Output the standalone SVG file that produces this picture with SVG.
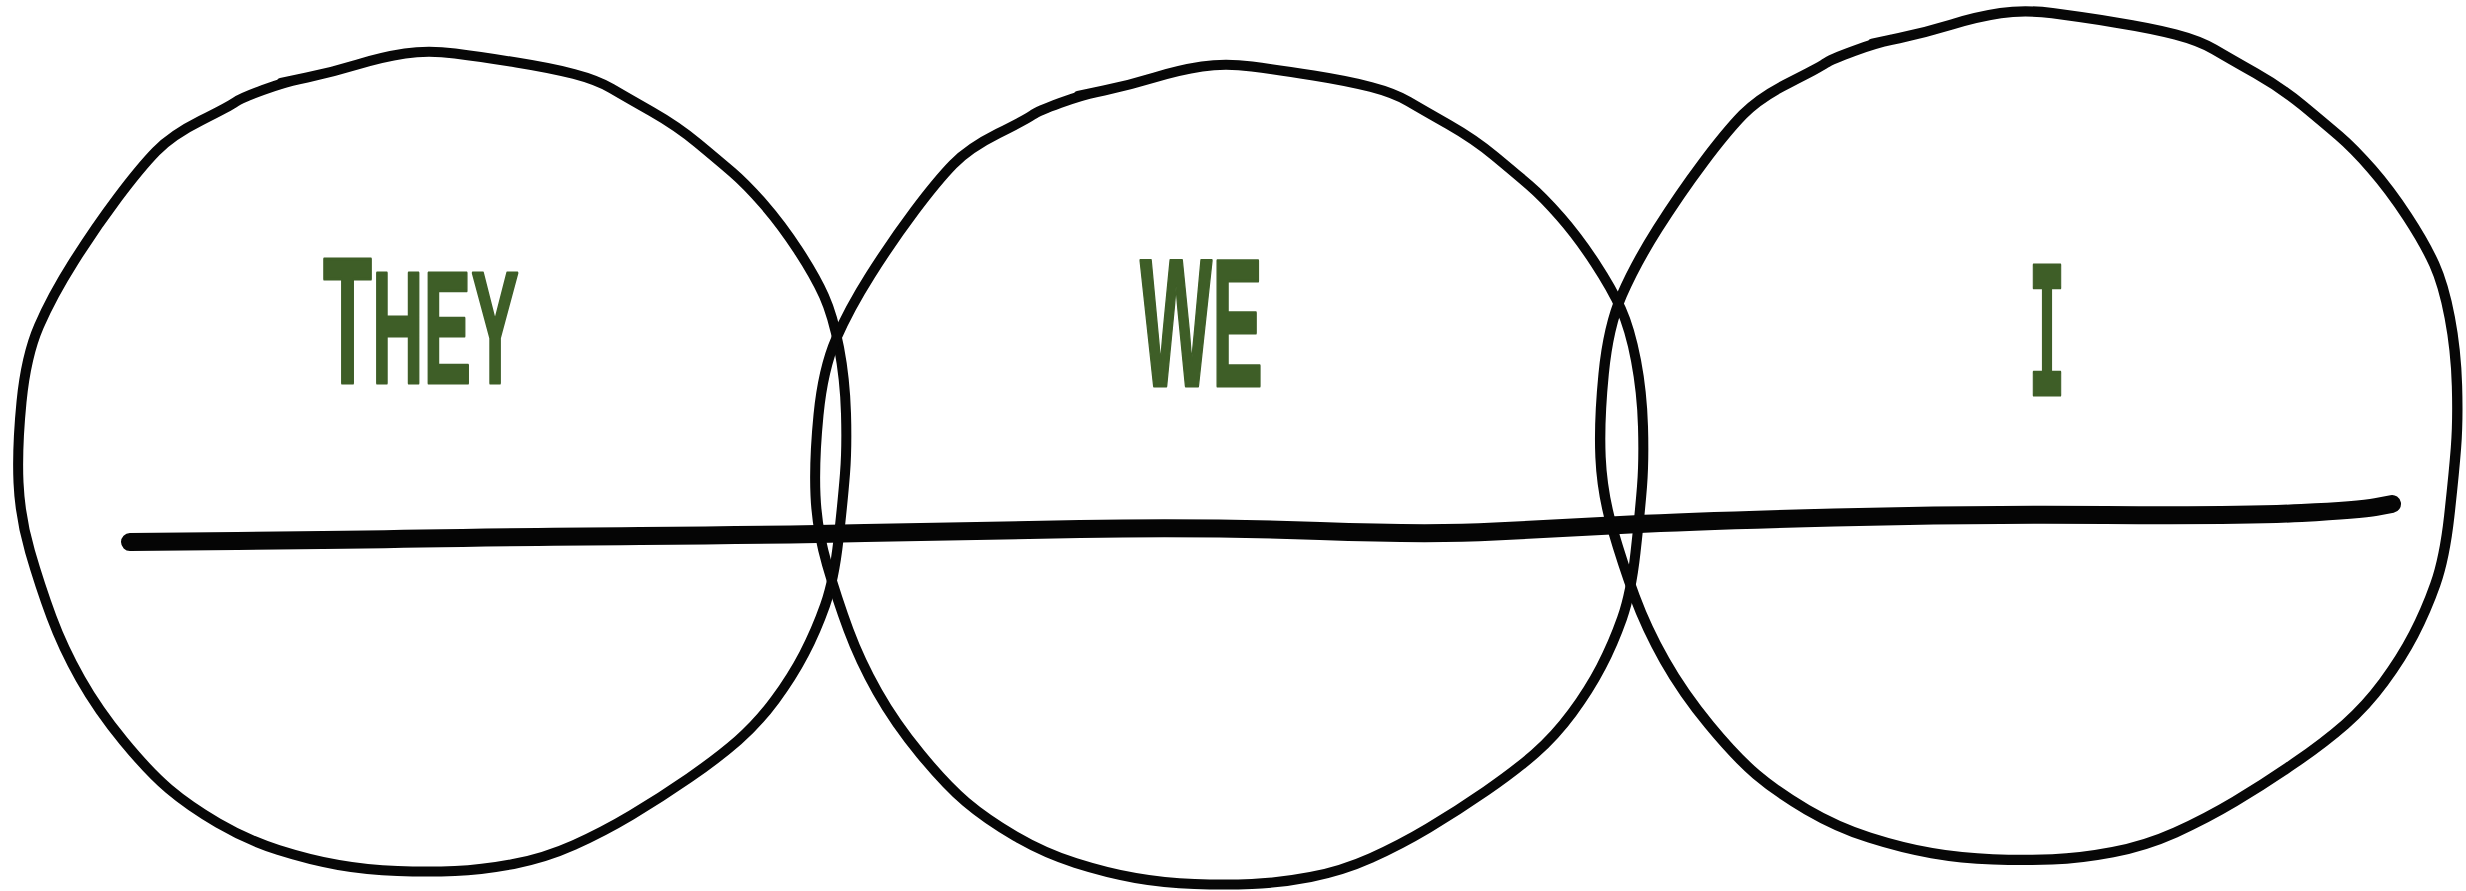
<svg xmlns="http://www.w3.org/2000/svg" xmlns:xlink="http://www.w3.org/1999/xlink" width="2466" height="891" viewBox="0 0 2466 891">
  <style>
    .ring { fill: none; stroke: #070707; stroke-linejoin: round; stroke-linecap: round; }
    .label { fill: #3e5e27; stroke: #3e5e27; stroke-width: 3; stroke-linejoin: round; font-family: "Liberation Sans", Arial, sans-serif; font-weight: bold; }
    .label-i { fill: #3e5e27; stroke: #3e5e27; stroke-width: 3; stroke-linejoin: round; font-family: "DejaVu Sans Mono", "Liberation Mono", monospace; font-weight: bold; }
    .timeline { fill: none; stroke: #050505; stroke-linecap: round; stroke-linejoin: round; }
  </style>
  <defs>
    <path id="ring" class="ring" stroke-width="10" d="M 281 83 L 307 77.5 Q 333 72 357.5 64.5 Q 382 57 405 53.5 Q 428 50 455 53.5 Q 482 57 516.5 62.5 Q 551 68 574 74 Q 597 80 611.5 88.5 Q 626 97 651.5 111.5 Q 677 126 697.5 143 Q 718 160 732 172 Q 746 184 763.5 204 Q 781 224 798 250 Q 815 276 824 296 Q 833 316 839 347.5 Q 845 379 846 413.5 Q 847 448 845 473.5 Q 843 499 838.5 539.5 Q 834 580 825 605.5 Q 816 631 804 654 Q 792 677 775 700 Q 758 723 738 740.5 Q 718 758 689 778 Q 660 798 631.5 815 Q 603 832 574 845 Q 545 858 513.5 864 Q 482 870 455 871 Q 428 872 397.5 871 Q 367 870 338.5 865 Q 310 860 278.5 850 Q 247 840 218 823 Q 189 806 169 789 Q 149 772 123.5 741 Q 98 710 80.5 679 Q 63 648 51.5 617 Q 40 586 30 551.5 Q 20 517 18.5 482.5 Q 17 448 21.5 402 Q 26 356 39 326 Q 52 296 73.5 262 Q 95 228 117.5 198 Q 140 168 156 151.5 Q 172 135 201 120.5 Q 230 106 235.5 102 Q 241 98 263 90 Q 285 82 300 79"/>
  </defs>
  <rect width="2466" height="891" fill="#ffffff"/>

  <g id="node-they">
    <use xlink:href="#ring" href="#ring"/>
    <text class="label" transform="translate(323 383) scale(0.446 1)" x="0" y="0"><tspan font-size="180">T</tspan><tspan font-size="160">HEY</tspan></text>
  </g>

  <g id="node-we">
    <use xlink:href="#ring" href="#ring" transform="translate(797 13)"/>
    <text class="label" x="1140" y="386" font-size="182" textLength="123" lengthAdjust="spacingAndGlyphs">WE</text>
  </g>

  <g id="node-i">
    <use xlink:href="#ring" href="#ring" transform="translate(2028.5 435) scale(1.035) translate(-432 -461)"/>
    <text class="label-i" x="2028" y="395" font-size="178" textLength="38" lengthAdjust="spacingAndGlyphs">I</text>
  </g>

  <g id="connectors">
    <path class="timeline" stroke-width="18" d="M 130 542 L 237 541 Q 344 540 422 538.5 Q 500 537 640 536 Q 780 535 865 533 Q 950 531 1080 529 Q 1210 527 1320 531 Q 1430 535 1495 531.5 Q 1560 528 1630 524.5 Q 1700 521 1834 517.5 Q 1968 514 2105.5 515 Q 2243 516 2301.5 513 Q 2360 510 2376 507 L 2392 504"/>
  </g>
</svg>
